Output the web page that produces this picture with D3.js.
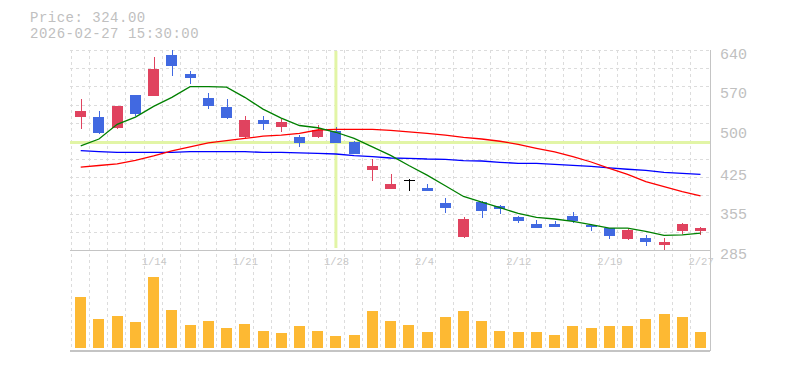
<!DOCTYPE html>
<html><head><meta charset="utf-8">
<script src="https://cdn.jsdelivr.net/npm/d3@7"></script>
<style>
body{margin:0;background:#fff;}
svg{display:block;}
text{font-family:"Liberation Mono","DejaVu Sans Mono",monospace;}
</style>
</head><body>
<svg id="chart" width="785" height="370"></svg>
<script>
// ---- data ----
const dates = ["1/7","1/8","1/9","1/13","1/14","1/15","1/16","1/19","1/20","1/21","1/22","1/23","1/26","1/27","1/28","1/29","1/30","2/2","2/3","2/4","2/5","2/6","2/9","2/10","2/12","2/13","2/16","2/17","2/18","2/19","2/20","2/24","2/25","2/26","2/27"];
const openP  = [521,521,502,560,558,631,598,555,539,486,516,503,486,486,496,477,427,393,408,395,368,308,370,363,344,331,331,345,329,324,305,306,294,319,319];
const highP  = [553,532,541,560,628,640,603,564,553,523,523,518,489,507,503,479,447,420,411,402,377,344,372,365,345,338,337,353,331,324,322,312,306,333,326];
const lowP   = [500,491,500,523,558,594,580,535,518,484,498,495,468,484,475,455,408,393,390,390,351,306,342,349,333,324,326,333,319,305,303,292,285,313,312];
const closeP = [532,493,541,527,606,612,591,541,519,516,509,512,475,498,475,455,434,402,408,390,360,340,354,358,337,324,326,337,326,310,321,299,299,331,324];
const volume = [510,290,320,260,710,380,230,270,200,240,170,150,220,170,120,130,370,270,230,160,310,370,270,170,160,160,130,220,200,220,220,290,340,310,160];
const ma5  = [470,482,508,521,540,556,575,575,574,556,535,519,506,502,494,483,468,453,435,418,399,380,370,360,350,343,340,336,330,324,324,318,311,312,315];
const ma25 = [432,435,438,444,452,461,468,475,479,483,487,489,492,498,499,499,499,497.5,494.5,492,489,485,482,478,472.6,465.5,459,450.7,441.2,430,419.4,406.3,397.4,388.5,381];
const ma75 = [461.3,459.5,458.4,458.4,458.4,458.4,459.5,459.5,459.5,459.5,458.4,458.4,457.5,456.6,455.4,452.4,450.7,448.3,447.8,446.5,446,443.6,443,440.7,438.9,438.9,437.1,435.3,433.6,430.6,428.3,426.5,422.9,421.1,419.4];
const xTickLabels = ["1/14","1/21","1/28","2/4","2/12","2/19","2/27"];
const yTickLabels = [640,570,500,425,355,285];
const titleLines = ["Price: 324.00","2026-02-27 15:30:00"];
const crossDate = "1/28";
const crossPrice = 476;

// ---- layout ----
const svg = d3.select("#chart");
const L = 70, R = 710, PT = 50, PB = 250, VT = 252, VB = 348, BOT = 350;
const x = d3.scaleBand().domain(dates).range([71.6, 709.6]);
const cx = d => x(d) + x.bandwidth() / 2;
const y = d3.scaleLinear().domain([285, 640]).range([PB, PT]);
const vy = d3.scaleLinear().domain([0, 960]).range([VB, VT]);
const UP = "#e0435f", DOWN = "#4169e1";
const bw = 11;

// grid
const grid = svg.append("g").attr("stroke", "#dcdcdc").attr("stroke-dasharray", "3,3").attr("shape-rendering", "crispEdges");
d3.range(12).forEach(k => {
  const yy = Math.round(PT + k * (PB - PT) / 11) + 0.5;
  grid.append("line").attr("x1", L).attr("x2", R).attr("y1", yy).attr("y2", yy);
});
dates.forEach(d => {
  const xx = Math.round(x(d) - 1) + 0.5;
  grid.append("line").attr("x1", xx).attr("x2", xx).attr("y1", PT).attr("y2", BOT);
});

// crosshair
const ch = svg.append("g").attr("stroke", "#e2f5a6").attr("stroke-width", 3);
ch.append("line").attr("x1", cx(crossDate)).attr("x2", cx(crossDate)).attr("y1", PT + 1).attr("y2", PB - 2);
ch.append("line").attr("x1", L).attr("x2", R).attr("y1", y(crossPrice)).attr("y2", y(crossPrice));

// borders
const bd = svg.append("g").attr("stroke", "#c4c4c4").attr("shape-rendering", "crispEdges");
bd.append("line").attr("x1", R + 0.5).attr("x2", R + 0.5).attr("y1", PT).attr("y2", BOT + 1);
bd.append("line").attr("x1", L).attr("x2", R).attr("y1", PB + 0.5).attr("y2", PB + 0.5);
bd.append("line").attr("x1", L).attr("x2", R).attr("y1", BOT + 0.5).attr("y2", BOT + 0.5).attr("stroke-width", 2);

// volume bars
svg.append("g").selectAll("rect").data(dates).join("rect")
  .attr("x", d => Math.round(cx(d) - bw / 2))
  .attr("width", bw)
  .attr("y", (d, i) => vy(volume[i]))
  .attr("height", (d, i) => VB - vy(volume[i]))
  .attr("fill", "#fdb933")
  .attr("shape-rendering", "crispEdges");

// candles
const cg = svg.append("g").attr("shape-rendering", "crispEdges");
dates.forEach((d, i) => {
  const o = openP[i], c = closeP[i];
  const col = c > o ? UP : (c < o ? DOWN : "#000");
  const xc = Math.round(cx(d)) + 0.5;
  cg.append("line").attr("x1", xc).attr("x2", xc).attr("y1", y(highP[i])).attr("y2", y(lowP[i])).attr("stroke", col);
  if (c === o) {
    cg.append("line").attr("x1", xc - bw / 2).attr("x2", xc + bw / 2).attr("y1", y(o)).attr("y2", y(o)).attr("stroke", col).attr("stroke-width", 1.5);
  } else {
    cg.append("rect").attr("x", Math.round(cx(d) - bw / 2)).attr("width", bw)
      .attr("y", y(Math.max(o, c))).attr("height", Math.max(1, Math.abs(y(o) - y(c))))
      .attr("fill", col);
  }
});

// moving averages
const line = d3.line().x((v, i) => cx(dates[i])).y(v => y(v));
[[ma75, "#0000ff"], [ma25, "#ff0000"], [ma5, "#008000"]].forEach(([arr, col]) => {
  svg.append("path").attr("d", line(arr)).attr("fill", "none").attr("stroke", col).attr("stroke-width", 1.3);
});

// y axis (right)
const ya = svg.append("g").attr("transform", `translate(${R},0)`)
  .call(d3.axisRight(y).tickValues(yTickLabels).tickSize(0).tickPadding(10).tickFormat(d3.format("d")));
ya.select(".domain").remove();
ya.selectAll("text").attr("fill", "#c0c0c0").attr("font-size", 15).attr("dy", "0.55em")
  .style("font-family", '"Liberation Mono",monospace');

// x axis labels
const xa = svg.append("g").attr("transform", `translate(0,${PB})`)
  .call(d3.axisBottom(x).tickValues(xTickLabels).tickSize(0).tickPadding(8));
xa.select(".domain").remove();
xa.selectAll("text").attr("fill", "#c8c8c8").attr("font-size", 10.5).attr("text-anchor", "start").attr("x", -12)
  .style("font-family", '"Liberation Mono",monospace');

// title
svg.append("g").selectAll("text").data(titleLines).join("text")
  .attr("x", 30).attr("y", (d, i) => 22 + i * 16)
  .attr("fill", "#c0c0c0").attr("font-size", 14).attr("letter-spacing", "0.5px")
  .text(d => d);
</script>
</body></html>
